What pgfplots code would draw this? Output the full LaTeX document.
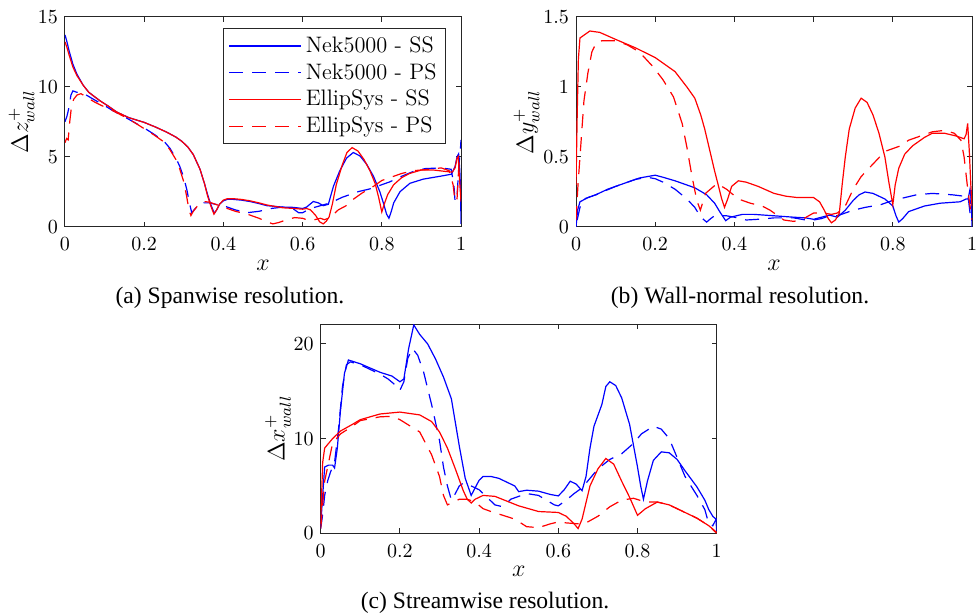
\documentclass[border=0pt]{standalone}
\usepackage{pgfplots}
\pgfplotsset{compat=1.18}
\usepackage{fontspec}
\newfontfamily\capfont{Liberation Serif}
\definecolor{axgray}{rgb}{0.15,0.15,0.15}

\pgfplotsset{
  resplot/.style={
    scale only axis, width=198pt, height=105pt,
    xmin=0, xmax=1, xtick={0,0.2,0.4,0.6,0.8,1},
    axis line style={axgray, line width=0.5pt},
    tick style={axgray, line width=0.5pt},
    major tick length=2.5pt,
    tick align=inside, xtick pos=both, ytick pos=both,
    tick label style={font=\fontsize{10.3}{12}\selectfont},
    xticklabel style={yshift=-2pt},
    label style={font=\fontsize{11.5}{13}\selectfont},
    xlabel={$x$},
    xlabel style={at={(axis description cs:0.5,-0.183)}, anchor=center},
    clip=true,
  },
  ss/.style={line width=0.6pt},
  ps/.style={line width=0.6pt, dash pattern=on 7pt off 4.5pt},
}

\begin{document}
\begin{tikzpicture}
\path[use as bounding box] (0,0) rectangle (488.5pt,307.5pt);

% (a) spanwise
\begin{axis}[resplot, at={(32.5pt,194.15pt)}, anchor=south west,
  ymin=0, ymax=15, ytick={0,5,10,15},
  ylabel={$\Delta z^+_{wall}$},
  ylabel style={at={(axis description cs:-0.11,0.5)}, anchor=center},
  legend style={at={(0.962,0.946)}, anchor=north east, draw=axgray, line width=0.5pt,
    font=\fontsize{11.2}{12}\selectfont, inner xsep=2.5pt, inner ysep=2pt, row sep=0pt,
    cells={anchor=west}},
  legend image code/.code={\draw[#1, line width=0.6pt] (0pt,0pt) -- (36pt,0pt);},
]
\addplot[blue, ss] coordinates {(0,13.7)(0.005,13.2)(0.01,12.6)(0.02,11.6)(0.03,10.9)(0.046,10.1)(0.06,9.6)(0.088,9.0)(0.11,8.6)(0.13,8.2)(0.16,7.8)(0.2,7.45)(0.23,7.1)(0.257,6.75)(0.28,6.4)(0.295,6.1)(0.31,5.7)(0.324,5.15)(0.341,4.1)(0.352,3.1)(0.36,2.3)(0.368,1.6)(0.377,0.95)(0.383,1.2)(0.39,1.6)(0.4,1.85)(0.41,1.95)(0.425,1.95)(0.445,1.9)(0.467,1.8)(0.49,1.65)(0.51,1.5)(0.53,1.45)(0.55,1.4)(0.577,1.38)(0.6,1.3)(0.61,1.4)(0.627,1.8)(0.64,1.7)(0.652,1.5)(0.665,1.6)(0.678,2.9)(0.694,4.0)(0.711,4.9)(0.728,5.3)(0.745,5.05)(0.762,4.45)(0.779,3.6)(0.795,2.5)(0.805,1.6)(0.812,0.9)(0.818,0.6)(0.824,1.1)(0.83,1.7)(0.846,2.5)(0.871,3.1)(0.905,3.4)(0.947,3.6)(0.976,3.75)(0.985,4.3)(0.99,5.0)(0.994,5.2)(0.997,4.0)(0.999,2.5)(1.0,0.2)};
\addlegendentry{Nek5000 - SS}
\addplot[blue, ps] coordinates {(0,7.5)(0.005,7.9)(0.01,8.5)(0.015,9.4)(0.02,9.7)(0.03,9.6)(0.045,9.55)(0.06,9.3)(0.075,9.05)(0.1,8.65)(0.12,8.3)(0.15,7.85)(0.175,7.45)(0.2,7.05)(0.225,6.6)(0.25,6.1)(0.265,5.6)(0.28,4.9)(0.29,4.3)(0.3,3.5)(0.308,2.6)(0.315,1.6)(0.32,1.0)(0.326,1.2)(0.335,1.5)(0.35,1.7)(0.365,1.7)(0.38,1.6)(0.4,1.5)(0.43,1.2)(0.46,1.0)(0.49,1.1)(0.52,1.3)(0.55,1.4)(0.575,1.3)(0.59,1.0)(0.6,1.0)(0.62,1.3)(0.645,1.5)(0.67,1.7)(0.7,2.1)(0.74,2.5)(0.77,2.7)(0.8,3.0)(0.82,3.2)(0.85,3.6)(0.88,3.95)(0.91,4.15)(0.95,4.2)(0.975,4.1)(0.982,3.0)(0.985,1.8)(0.99,2.2)(0.995,4.5)(0.998,5.3)(1.0,6.2)};
\addlegendentry{Nek5000 - PS}
\addplot[red, ss] coordinates {(0,13.2)(0.005,12.8)(0.01,12.3)(0.02,11.4)(0.03,10.8)(0.046,10.1)(0.06,9.6)(0.088,9.0)(0.11,8.6)(0.13,8.2)(0.16,7.8)(0.2,7.45)(0.23,7.1)(0.257,6.75)(0.28,6.4)(0.295,6.1)(0.31,5.7)(0.324,5.15)(0.341,4.1)(0.352,3.1)(0.36,2.2)(0.368,1.5)(0.376,0.9)(0.383,1.2)(0.39,1.6)(0.4,1.9)(0.41,2.0)(0.425,2.0)(0.445,1.95)(0.467,1.85)(0.49,1.7)(0.51,1.55)(0.53,1.45)(0.55,1.35)(0.58,1.3)(0.6,1.25)(0.61,1.3)(0.62,1.2)(0.633,0.8)(0.643,0.35)(0.652,0.2)(0.66,0.4)(0.667,0.7)(0.675,1.6)(0.685,3.0)(0.7,4.4)(0.712,5.3)(0.725,5.65)(0.74,5.4)(0.755,4.8)(0.77,4.0)(0.783,3.1)(0.792,2.1)(0.8,1.05)(0.806,1.6)(0.815,2.3)(0.83,3.0)(0.85,3.5)(0.87,3.8)(0.9,4.05)(0.93,4.05)(0.96,3.95)(0.978,3.9)(0.985,4.2)(0.99,4.9)(0.993,5.0)(0.996,3.5)(1.0,1.8)};
\addlegendentry{EllipSys - SS}
\addplot[red, ps] coordinates {(0,6.0)(0.004,6.3)(0.008,6.2)(0.012,7.5)(0.016,8.5)(0.022,9.1)(0.03,9.4)(0.04,9.5)(0.05,9.35)(0.06,9.15)(0.075,8.9)(0.1,8.55)(0.12,8.3)(0.15,7.85)(0.175,7.45)(0.2,7.0)(0.225,6.55)(0.25,6.05)(0.265,5.5)(0.28,4.8)(0.29,4.1)(0.3,3.2)(0.307,2.2)(0.313,1.2)(0.318,0.8)(0.324,1.1)(0.335,1.5)(0.35,1.8)(0.365,1.75)(0.38,1.6)(0.4,1.4)(0.43,1.1)(0.46,0.9)(0.49,0.6)(0.51,0.35)(0.525,0.2)(0.54,0.3)(0.56,0.5)(0.58,0.65)(0.6,0.6)(0.615,0.45)(0.63,0.5)(0.645,0.6)(0.655,0.5)(0.665,0.6)(0.675,0.8)(0.69,1.2)(0.71,1.5)(0.73,2.0)(0.75,2.4)(0.78,2.9)(0.8,3.3)(0.82,3.5)(0.85,3.8)(0.88,4.0)(0.92,4.1)(0.95,4.2)(0.97,4.0)(0.98,3.0)(0.985,1.8)(0.99,2.0)(0.995,4.6)(1.0,5.0)};
\addlegendentry{EllipSys - PS}
\end{axis}

% (b) wall-normal
\begin{axis}[resplot, at={(288pt,194pt)}, anchor=south west,
  ymin=0, ymax=1.5, ytick={0,0.5,1,1.5},
  ylabel={$\Delta y^+_{wall}$},
  ylabel style={at={(axis description cs:-0.125,0.5)}, anchor=center},
]
\addplot[blue, ss] coordinates {(0,0.0)(0.004,0.12)(0.01,0.18)(0.03,0.21)(0.05,0.23)(0.08,0.27)(0.1,0.29)(0.13,0.32)(0.16,0.35)(0.2,0.37)(0.22,0.355)(0.25,0.33)(0.28,0.3)(0.3,0.28)(0.33,0.23)(0.35,0.17)(0.365,0.1)(0.378,0.045)(0.39,0.07)(0.42,0.09)(0.45,0.09)(0.5,0.08)(0.55,0.07)(0.58,0.065)(0.6,0.055)(0.62,0.07)(0.64,0.085)(0.66,0.07)(0.68,0.12)(0.7,0.19)(0.715,0.23)(0.73,0.25)(0.75,0.24)(0.78,0.2)(0.8,0.15)(0.808,0.08)(0.815,0.035)(0.825,0.06)(0.84,0.11)(0.86,0.13)(0.88,0.15)(0.92,0.17)(0.97,0.18)(0.985,0.2)(0.99,0.2)(0.995,0.27)(0.998,0.2)(1.0,0.0)};
\addplot[blue, ps] coordinates {(0.003,0.05)(0.01,0.14)(0.02,0.2)(0.05,0.23)(0.1,0.29)(0.15,0.34)(0.18,0.355)(0.2,0.345)(0.22,0.32)(0.25,0.27)(0.28,0.2)(0.3,0.14)(0.315,0.07)(0.33,0.035)(0.34,0.06)(0.35,0.08)(0.38,0.08)(0.4,0.07)(0.43,0.05)(0.46,0.055)(0.5,0.065)(0.55,0.065)(0.58,0.05)(0.6,0.05)(0.62,0.06)(0.64,0.08)(0.66,0.08)(0.68,0.1)(0.7,0.12)(0.73,0.14)(0.77,0.16)(0.8,0.19)(0.83,0.21)(0.86,0.23)(0.9,0.24)(0.95,0.23)(0.98,0.22)(0.99,0.22)(0.995,0.1)(1.0,0.32)};
\addplot[red, ss] coordinates {(0,0.3)(0.003,0.8)(0.006,1.2)(0.01,1.35)(0.02,1.37)(0.035,1.40)(0.06,1.39)(0.1,1.34)(0.15,1.28)(0.2,1.21)(0.25,1.11)(0.28,1.0)(0.3,0.92)(0.315,0.8)(0.325,0.7)(0.34,0.52)(0.35,0.4)(0.36,0.29)(0.368,0.2)(0.375,0.14)(0.383,0.2)(0.393,0.29)(0.41,0.33)(0.43,0.32)(0.46,0.29)(0.5,0.24)(0.53,0.22)(0.56,0.21)(0.6,0.21)(0.615,0.18)(0.627,0.12)(0.637,0.06)(0.645,0.03)(0.655,0.05)(0.665,0.1)(0.672,0.3)(0.68,0.5)(0.69,0.7)(0.705,0.85)(0.72,0.92)(0.735,0.89)(0.75,0.8)(0.765,0.67)(0.78,0.5)(0.79,0.32)(0.8,0.16)(0.806,0.3)(0.815,0.42)(0.83,0.52)(0.85,0.58)(0.88,0.64)(0.9,0.67)(0.93,0.67)(0.96,0.65)(0.98,0.63)(0.985,0.66)(0.989,0.74)(0.993,0.55)(0.997,0.3)(1.0,0.15)};
\addplot[red, ps] coordinates {(0,0.05)(0.005,0.3)(0.01,0.5)(0.02,0.9)(0.03,1.1)(0.04,1.25)(0.05,1.31)(0.065,1.33)(0.1,1.33)(0.13,1.3)(0.16,1.25)(0.196,1.14)(0.22,1.05)(0.246,0.93)(0.268,0.74)(0.28,0.57)(0.293,0.36)(0.305,0.19)(0.314,0.12)(0.327,0.24)(0.356,0.31)(0.38,0.27)(0.41,0.2)(0.44,0.17)(0.47,0.15)(0.49,0.12)(0.51,0.08)(0.525,0.05)(0.55,0.04)(0.575,0.06)(0.6,0.1)(0.625,0.1)(0.645,0.09)(0.66,0.1)(0.68,0.15)(0.7,0.27)(0.72,0.36)(0.75,0.45)(0.78,0.54)(0.8,0.56)(0.82,0.58)(0.84,0.62)(0.87,0.65)(0.9,0.68)(0.93,0.69)(0.955,0.67)(0.972,0.62)(0.98,0.5)(0.988,0.3)(0.993,0.19)(1.0,0.05)};
\end{axis}

% (c) streamwise
\begin{axis}[resplot, at={(160.35pt,40.85pt)}, anchor=south west, height=104.65pt,
  ymin=0, ymax=22.1, ytick={0,10,20},
  ylabel={$\Delta x^+_{wall}$},
  ylabel style={at={(axis description cs:-0.108,0.5)}, anchor=center},
]
\addplot[blue, ss] coordinates {(0,0.8)(0.005,4.0)(0.01,7.0)(0.02,7.2)(0.03,7.2)(0.035,6.9)(0.042,9.0)(0.05,13.0)(0.06,16.9)(0.07,18.3)(0.1,17.9)(0.15,17.0)(0.18,16.6)(0.2,16.0)(0.21,16.3)(0.222,19.5)(0.235,22.0)(0.25,21.0)(0.27,20.0)(0.29,18.4)(0.31,16.5)(0.33,14.2)(0.35,9.2)(0.365,5.8)(0.38,4.0)(0.39,4.8)(0.4,5.6)(0.41,6.0)(0.43,6.0)(0.45,5.8)(0.47,5.4)(0.49,5.0)(0.5,4.4)(0.52,4.55)(0.55,4.45)(0.58,4.1)(0.6,3.95)(0.615,4.6)(0.63,5.5)(0.645,5.2)(0.66,4.5)(0.67,6.0)(0.68,9.0)(0.69,11.3)(0.71,13.6)(0.72,15.5)(0.73,16.0)(0.745,15.6)(0.76,14.3)(0.78,11.5)(0.8,7.0)(0.808,5.0)(0.815,3.6)(0.825,5.5)(0.84,7.7)(0.86,8.6)(0.88,8.5)(0.9,7.8)(0.92,6.6)(0.95,4.9)(0.97,3.5)(0.98,2.5)(0.99,1.8)(0.998,1.5)(1.0,0.2)};
\addplot[blue, ps] coordinates {(0,0.5)(0.005,2.0)(0.01,4.0)(0.018,5.6)(0.025,6.5)(0.035,7.5)(0.045,11.0)(0.055,15.5)(0.065,17.8)(0.075,18.1)(0.1,17.8)(0.15,16.8)(0.17,16.3)(0.19,15.6)(0.2,15.1)(0.21,16.0)(0.22,18.5)(0.232,19.5)(0.245,18.8)(0.26,17.0)(0.28,13.6)(0.3,9.8)(0.31,7.0)(0.32,5.0)(0.33,3.5)(0.34,4.2)(0.35,5.0)(0.36,5.3)(0.38,5.0)(0.4,4.6)(0.42,3.8)(0.44,3.0)(0.46,2.8)(0.48,3.6)(0.5,3.9)(0.52,4.2)(0.55,4.0)(0.57,3.5)(0.59,3.0)(0.6,2.9)(0.62,3.5)(0.64,4.2)(0.66,4.8)(0.7,6.8)(0.73,7.8)(0.76,8.4)(0.79,9.5)(0.81,10.5)(0.84,11.3)(0.86,11.0)(0.88,10.0)(0.9,8.0)(0.92,6.0)(0.95,4.0)(0.97,2.5)(0.98,1.0)(0.99,0.8)(1.0,1.6)};
\addplot[red, ss] coordinates {(0,1.0)(0.005,7.5)(0.01,9.0)(0.03,10.0)(0.05,10.8)(0.08,11.5)(0.1,12.0)(0.15,12.6)(0.2,12.8)(0.25,12.5)(0.28,11.8)(0.3,10.7)(0.32,9.0)(0.34,6.8)(0.36,4.5)(0.37,3.6)(0.38,3.2)(0.39,3.6)(0.41,4.0)(0.44,3.9)(0.47,3.4)(0.5,2.9)(0.55,2.3)(0.6,2.2)(0.62,1.8)(0.64,1.0)(0.65,0.5)(0.66,1.5)(0.68,5.0)(0.7,6.8)(0.72,7.9)(0.74,7.3)(0.76,5.5)(0.78,3.8)(0.8,1.9)(0.82,2.6)(0.85,3.3)(0.88,3.0)(0.9,2.6)(0.95,1.6)(0.98,0.8)(1.0,0.1)};
\addplot[red, ps] coordinates {(0,0.5)(0.005,3.0)(0.01,5.5)(0.02,7.5)(0.03,9.5)(0.05,10.5)(0.08,11.3)(0.1,11.9)(0.15,12.3)(0.18,12.35)(0.2,12.0)(0.25,10.7)(0.28,8.3)(0.3,6.0)(0.31,4.0)(0.32,3.0)(0.35,3.6)(0.37,3.6)(0.39,3.3)(0.41,2.6)(0.43,2.3)(0.46,1.9)(0.49,1.5)(0.52,0.7)(0.55,0.6)(0.58,1.0)(0.6,1.2)(0.62,1.1)(0.65,1.0)(0.67,1.1)(0.7,1.8)(0.73,2.8)(0.76,3.5)(0.79,3.7)(0.82,3.3)(0.85,3.3)(0.88,3.0)(0.9,2.6)(0.95,1.6)(0.98,0.8)(1.0,0.0)};
\end{axis}

\node[font=\capfont\fontsize{11.8}{14}\selectfont] at (115pt,158.5pt) {(a) Spanwise resolution.};
\node[font=\capfont\fontsize{11.8}{14}\selectfont] at (370pt,158.5pt) {(b) Wall-normal resolution.};
\node[font=\capfont\fontsize{11.8}{14}\selectfont] at (242.5pt,6pt) {(c) Streamwise resolution.};
\end{tikzpicture}
\end{document}
